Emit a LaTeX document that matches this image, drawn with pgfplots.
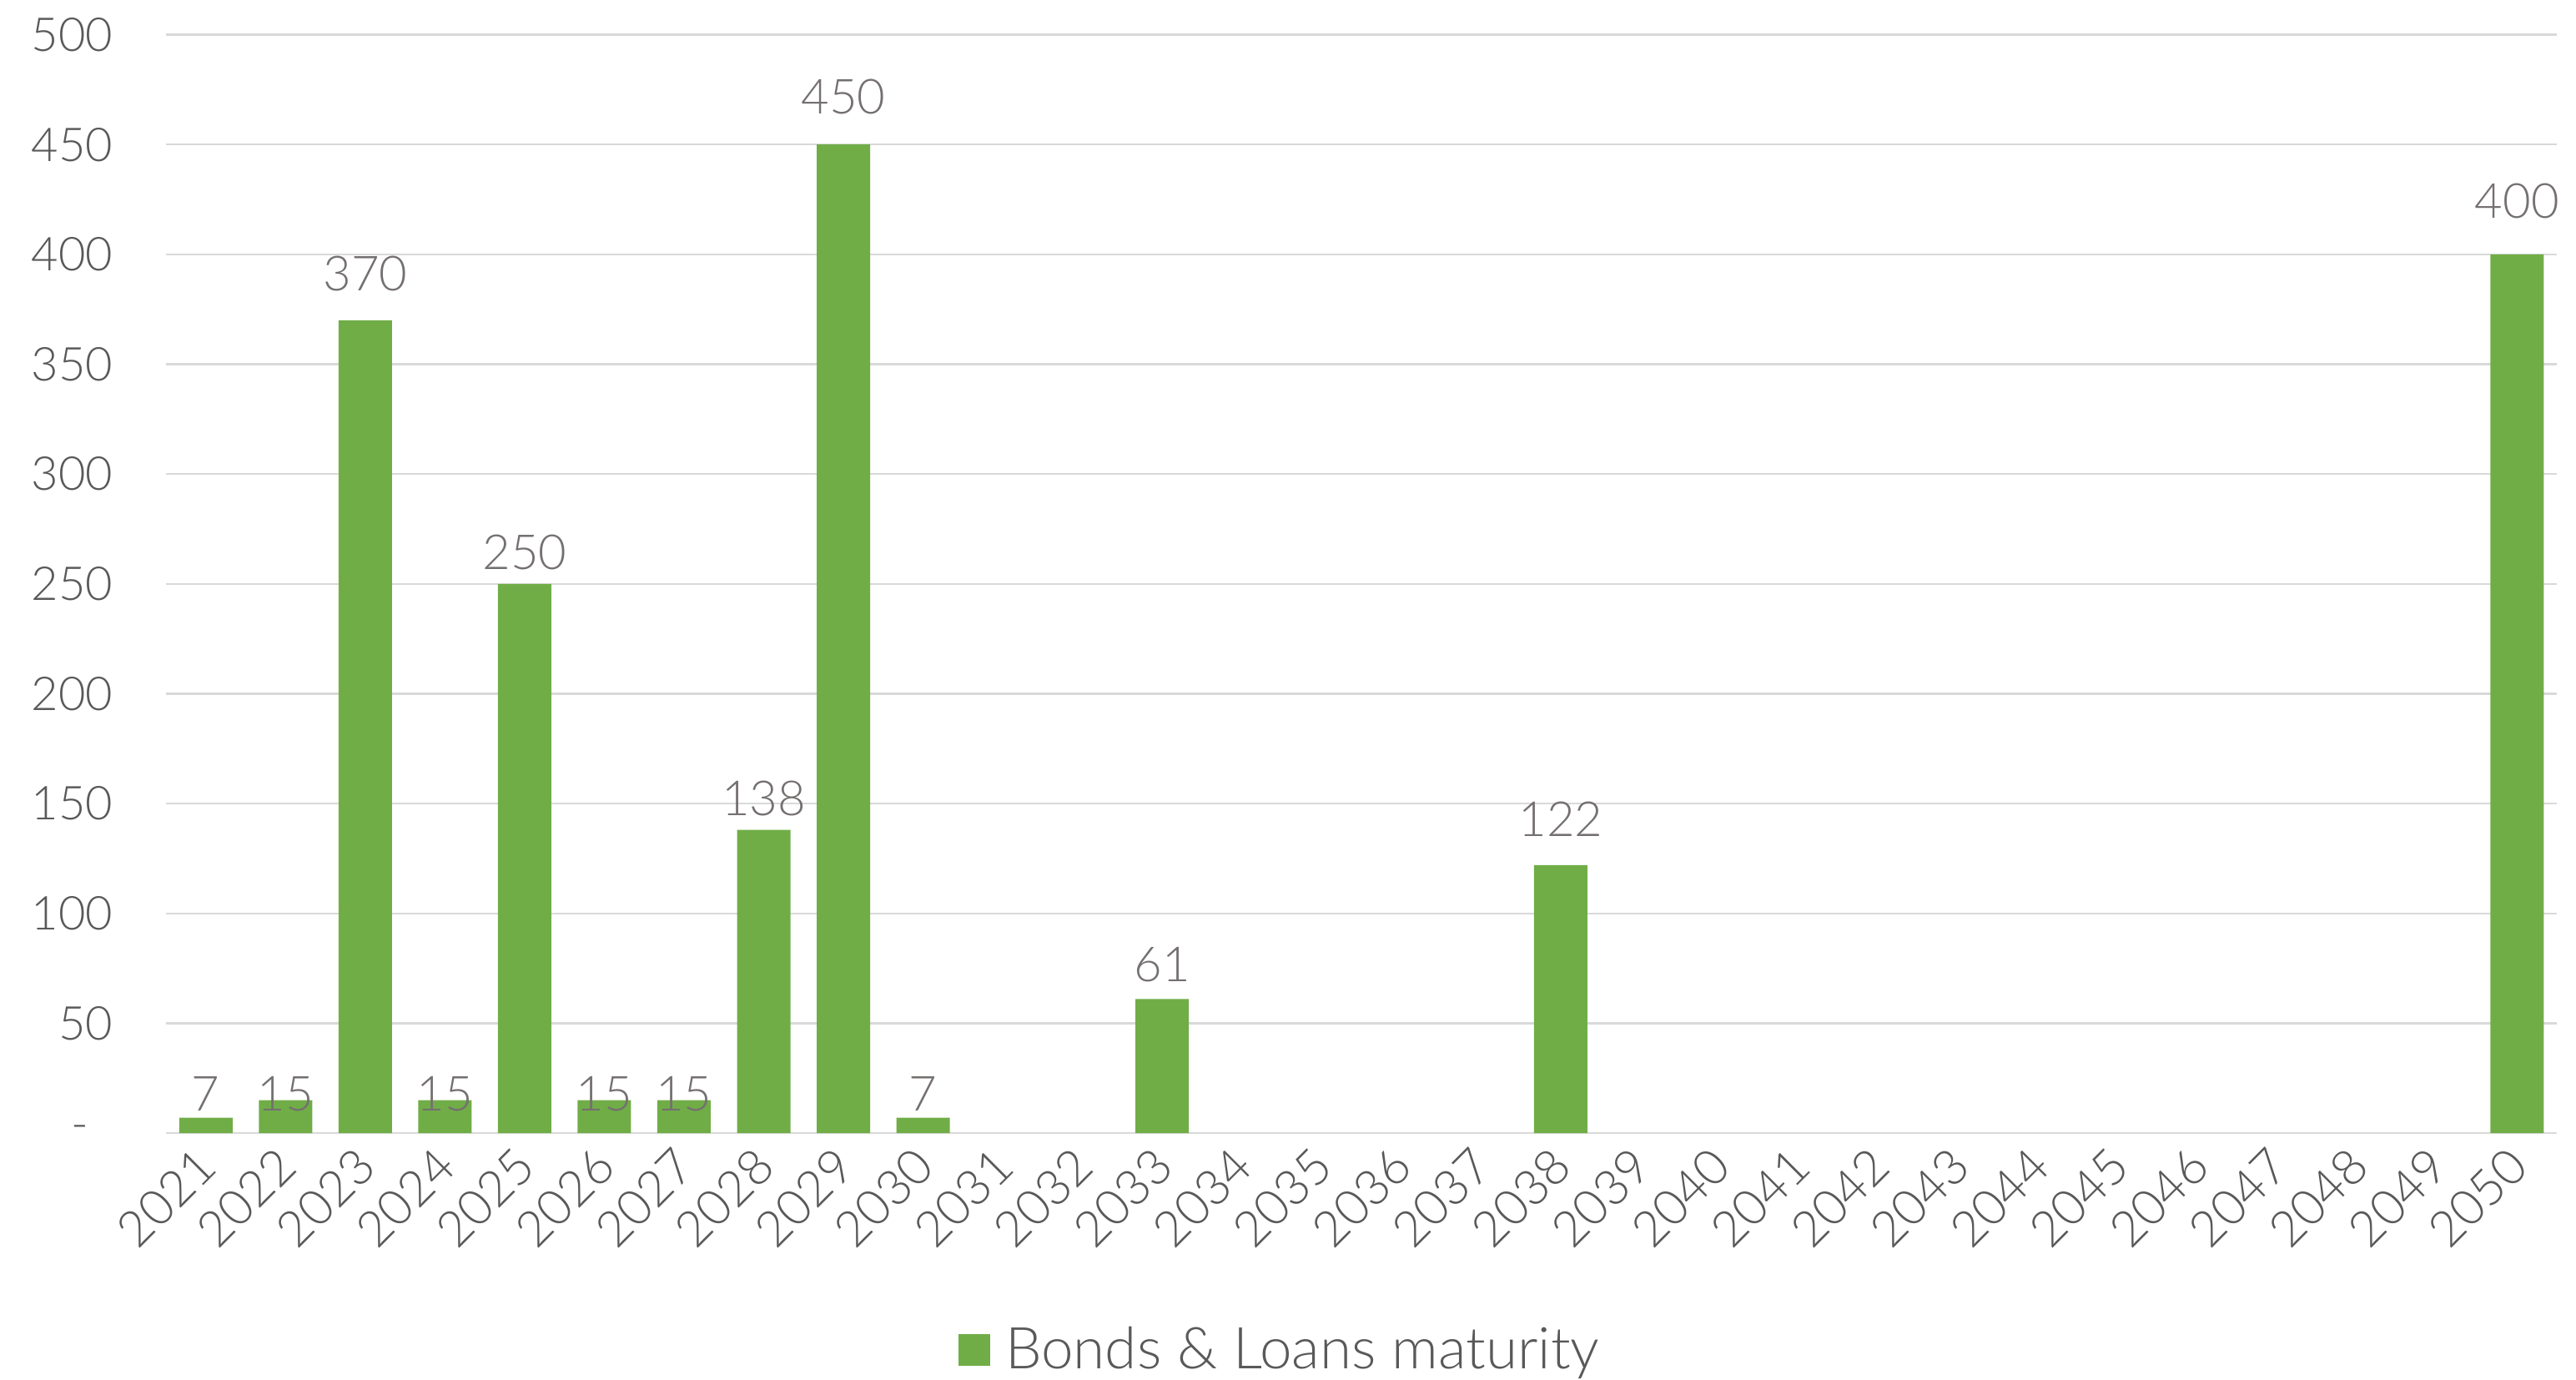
\documentclass[border=0pt]{standalone}
\usepackage{fontspec}
\setmainfont{Lato}[UprightFont=* Light]
\usepackage{pgfplots}
\usepackage{pgfplotstable}
\pgfplotsset{compat=1.18}

\definecolor{barg}{HTML}{70AD47}
\definecolor{gridgray}{HTML}{D9D9D9}
\definecolor{axisgray}{HTML}{595959}
\definecolor{labgray}{HTML}{757070}

% year index (0 = 2021), amount, label offset above bar (bp)
\pgfplotstableread{
x  y    off
0  7    1.75
1  15   -3.5
2  370  8.5
3  15   -3.5
4  250  4
5  15   -3.5
6  15   -3.5
7  138  4
8  450  8.75
9  7    1.75
12 61   5
17 122  8.5
29 400  10.5
}\bondsdata

\begin{document}
\begin{tikzpicture}
\begin{axis}[
    scale only axis,
    width=716.5bp, height=329.1bp,
    at={(0,0)}, anchor=south west,
    xmin=-0.5, xmax=29.5, ymin=0, ymax=500,
    ybar, bar width=16bp,
    xtick={0,...,29},
    xticklabels={2021,2022,2023,2024,2025,2026,2027,2028,2029,2030,
                 2031,2032,2033,2034,2035,2036,2037,2038,2039,2040,
                 2041,2042,2043,2044,2045,2046,2047,2048,2049,2050},
    ytick={0,50,...,500},
    yticklabels={{-\hspace*{7.25bp}},50,100,150,200,250,300,350,400,450,500},
    ymajorgrids,
    grid style={draw=gridgray, line width=0.6bp},
    axis line style={draw=none},
    major tick length=0pt,
    tick label style={font=\fontsize{14bp}{16bp}\selectfont, text=axisgray},
    yticklabel style={anchor=east, inner sep=0pt, xshift=-15.75bp},
    xticklabel style={yshift=-7.1bp, xshift=0.5bp, rotate=45, anchor=east, inner sep=0pt,
        font=\fontsize{14.8bp}{16bp}\selectfont},
    /pgf/number format/assume math mode=true,
    nodes near coords,
    visualization depends on={\thisrow{off} \as \labeloff},
    every node near coord/.append style={anchor=south, inner sep=0pt,
        yshift=\labeloff bp, font=\fontsize{14.5bp}{16bp}\selectfont, text=labgray},
    legend style={at={(0.4655,0)}, anchor=center, yshift=-65bp,
        draw=none, fill=none, inner sep=0pt, column sep=4.6bp,
        font=\fontsize{17.3bp}{19bp}\selectfont, text=axisgray,
        nodes={inner sep=0pt}},
    legend image code/.code={\fill[barg] (0bp,-4.7bp) rectangle (9.4bp,4.7bp);},
]
\addplot[fill=barg, draw=none] table[x=x, y=y] {\bondsdata};
\addlegendentry{Bonds \& Loans maturity}
\end{axis}
\pgfresetboundingbox
\path[use as bounding box] (-49.75bp,-74bp) rectangle (722.25bp,339.5bp);
\end{tikzpicture}
\end{document}
